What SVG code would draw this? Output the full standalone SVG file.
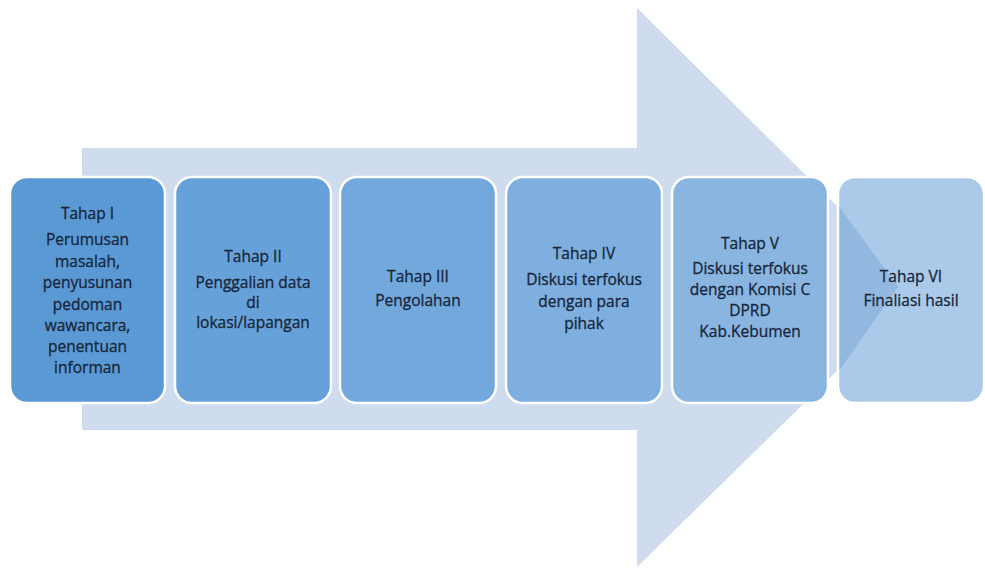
<svg xmlns="http://www.w3.org/2000/svg" width="985" height="568" viewBox="0 0 985 568">
<style>
.box{stroke:#ffffff;stroke-width:2.5}
.t{font-family:"Open Sans","Liberation Sans",sans-serif;font-size:15.5px;fill:#16263b;stroke:#16263b;stroke-width:0.3;text-anchor:middle}
</style>
<rect width="985" height="568" fill="#ffffff"/>
<g id="connectors">
<polygon id="arrow" points="82,148 637,148 637,8 838,207 898,287 838,370 637,567 637,430 82,430" fill="#cfdcee"/>
</g>
<g id="n1">
<rect class="box" x="10" y="177" width="155" height="226" rx="17" fill="#5b99d5"/>
<text class="t" x="87.5" y="219">Tahap I</text>
<text class="t" x="87.5" y="245">Perumusan</text>
<text class="t" x="87.5" y="266.5">masalah,</text>
<text class="t" x="87.5" y="288">penyusunan</text>
<text class="t" x="87.5" y="309.5">pedoman</text>
<text class="t" x="87.5" y="331">wawancara,</text>
<text class="t" x="87.5" y="352">penentuan</text>
<text class="t" x="87.5" y="373">informan</text>
</g>
<g id="n2">
<rect class="box" x="175" y="177" width="156" height="226" rx="17" fill="#67a1d9"/>
<text class="t" x="253" y="262">Tahap II</text>
<text class="t" x="253" y="288">Penggalian data</text>
<text class="t" x="253" y="308">di</text>
<text class="t" x="253" y="328">lokasi/lapangan</text>
</g>
<g id="n3">
<rect class="box" x="340" y="177" width="156" height="226" rx="17" fill="#72a8dc"/>
<text class="t" x="418" y="282">Tahap III</text>
<text class="t" x="418" y="306">Pengolahan</text>
</g>
<g id="n4">
<rect class="box" x="506" y="177" width="156" height="226" rx="17" fill="#7eafdf"/>
<text class="t" x="584" y="259">Tahap IV</text>
<text class="t" x="584" y="285">Diskusi terfokus</text>
<text class="t" x="584" y="307">dengan para</text>
<text class="t" x="584" y="329">pihak</text>
</g>
<g id="n5">
<rect class="box" x="672" y="177" width="156" height="226" rx="17" fill="#8ab5e1"/>
<text class="t" x="750" y="249">Tahap V</text>
<text class="t" x="750" y="274">Diskusi terfokus</text>
<text class="t" x="750" y="295">dengan Komisi C</text>
<text class="t" x="750" y="316">DPRD</text>
<text class="t" x="750" y="337">Kab.Kebumen</text>
</g>
<g id="n6">
<rect class="box" x="838" y="177" width="146" height="226" rx="17" fill="#abcae9"/>
<polygon points="839.5,207 898,287 839.5,370" fill="#93b8df"/>
<text class="t" x="911" y="282">Tahap VI</text>
<text class="t" x="911" y="306">Finaliasi hasil</text>
</g>
</svg>
